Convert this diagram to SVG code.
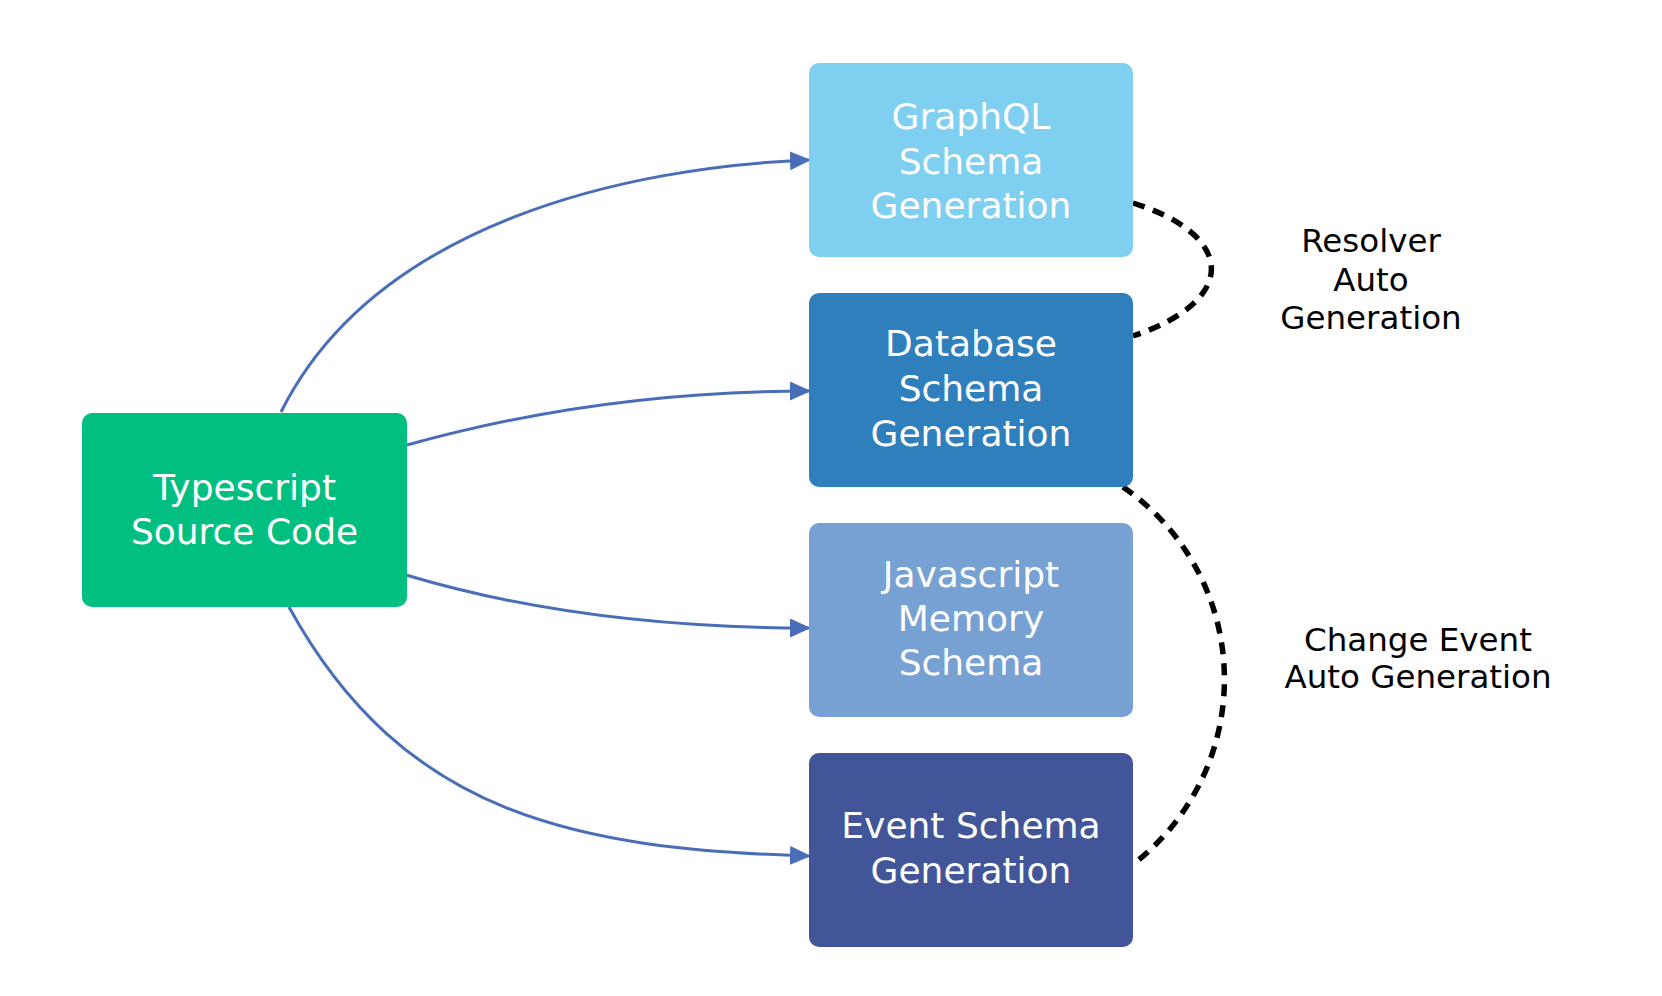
<svg xmlns="http://www.w3.org/2000/svg" width="1662" height="996" viewBox="0 0 1662 996">
<style>
.box{stroke:none}
.nt{font-family:"DejaVu Sans","Liberation Sans",sans-serif;font-size:36px;fill:#ffffff;text-anchor:middle}
.lt{font-family:"DejaVu Sans","Liberation Sans",sans-serif;font-size:32.5px;fill:#000000;text-anchor:middle}
.arrow{fill:none;stroke:#4A6DB8;stroke-width:3}
.dash{fill:none;stroke:#000000;stroke-width:5.5;stroke-dasharray:12 9}
</style>
<defs>
<marker id="ah" markerUnits="userSpaceOnUse" markerWidth="21" markerHeight="19" refX="19" refY="9.5" orient="auto">
<path d="M0,0 L21,9.5 L0,19 Z" fill="#4A6DB8"/>
</marker>
</defs>
<rect width="1662" height="996" fill="#ffffff"/>
<g id="connectors">
<path class="arrow" d="M281,412 C376,222 629,167 809,160" marker-end="url(#ah)"/>
<path class="arrow" d="M407,445 Q600,391 809,391" marker-end="url(#ah)"/>
<path class="arrow" d="M406,575 Q583,628 809,628" marker-end="url(#ah)"/>
<path class="arrow" d="M289,607 C404,817 579,849 809,856" marker-end="url(#ah)"/>
<path class="dash" d="M1133,203 C1235,235 1240,300 1133,336"/>
<path class="dash" d="M1123,487 A233,233 0 0 1 1136,862"/>
</g>
<g id="typescript">
<rect class="box" x="82" y="413" width="325" height="194" rx="10" fill="#00BF80"/>
<text class="nt" x="244.5" y="500">Typescript</text>
<text class="nt" x="244.5" y="543.5">Source Code</text>
</g>
<g id="graphql">
<rect class="box" x="809" y="63" width="324" height="194" rx="10" fill="#7FCFF0"/>
<text class="nt" x="971" y="129">GraphQL</text>
<text class="nt" x="971" y="173.5">Schema</text>
<text class="nt" x="971" y="218">Generation</text>
</g>
<g id="database">
<rect class="box" x="809" y="293" width="324" height="194" rx="10" fill="#2F7FBD"/>
<text class="nt" x="971" y="356">Database</text>
<text class="nt" x="971" y="401">Schema</text>
<text class="nt" x="971" y="446">Generation</text>
</g>
<g id="javascript">
<rect class="box" x="809" y="523" width="324" height="194" rx="10" fill="#77A1D3"/>
<text class="nt" x="971" y="587">Javascript</text>
<text class="nt" x="971" y="631">Memory</text>
<text class="nt" x="971" y="675">Schema</text>
</g>
<g id="event">
<rect class="box" x="809" y="753" width="324" height="194" rx="10" fill="#425598"/>
<text class="nt" x="971" y="838">Event Schema</text>
<text class="nt" x="971" y="883">Generation</text>
</g>
<g id="resolver-label">
<text class="lt" x="1371" y="252">Resolver</text>
<text class="lt" x="1371" y="291">Auto</text>
<text class="lt" x="1371" y="329">Generation</text>
</g>
<g id="change-label">
<text class="lt" x="1418" y="651">Change Event</text>
<text class="lt" x="1418" y="688">Auto Generation</text>
</g>
</svg>
